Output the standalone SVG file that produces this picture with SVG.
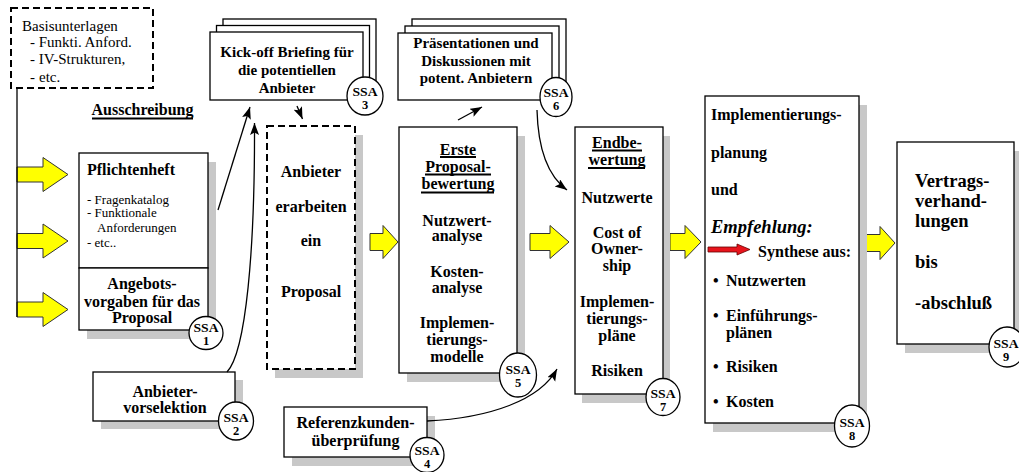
<svg xmlns="http://www.w3.org/2000/svg" width="1019" height="472" viewBox="0 0 1019 472">
<style>
text{font-family:"Liberation Serif","Times New Roman",serif;fill:#000}
.b{font-weight:bold;font-size:16px}
.k{font-weight:bold;font-size:15px}
.r{font-size:15px}
.s{font-size:13px}
.v{font-weight:bold;font-size:18.5px}
.ssa{font-weight:bold;font-size:12.5px;text-anchor:middle}
.m{text-anchor:middle}
.box{fill:#fff;stroke:#000;stroke-width:1.3}
.dash{fill:#fff;stroke:#000;stroke-width:2;stroke-dasharray:7,4}
.sh{fill:#c8c8c8}
.ya{fill:#ffff00;stroke:#333;stroke-width:1}
.ul{stroke:#000;stroke-width:2}
.c{fill:none;stroke:#000;stroke-width:1.3}
.circ{fill:#fff;stroke:#000;stroke-width:1.3}
</style>
<defs>
<marker id="ah" markerUnits="userSpaceOnUse" markerWidth="13" markerHeight="10" refX="12" refY="4.5" orient="auto">
<path d="M0,0 L12,4.5 L0,9 L2.5,4.5 z" fill="#000"/>
</marker>
</defs>

<g id="basis">
<rect class="dash" x="11" y="8" width="142" height="80"/>
<text class="r" x="22" y="31">Basisunterlagen</text>
<text class="r" x="30" y="47">- Funkti. Anford.</text>
<text class="r" x="30" y="64">- IV-Strukturen,</text>
<text class="r" y="82"><tspan x="30">-</tspan><tspan x="39">etc.</tspan></text>
</g>

<g id="ausschreibung">
<text class="b m" x="142.5" y="115">Ausschreibung</text>
<line class="ul" x1="92" y1="118.5" x2="193" y2="118.5"/>
</g>

<g id="yellow-arrows">
<polygon class="ya" points="17,167 43,167 43,157.5 68,174.5 43,191.5 43,182 17,182"/>
<polygon class="ya" points="17,233.5 43,233.5 43,224 68,241 43,258 43,248.5 17,248.5"/>
<polygon class="ya" points="17,302 43,302 43,292.5 68,309.5 43,326.5 43,317 17,317"/>
<polygon class="ya" points="370,233.5 383,233.5 383,225.5 398,242 383,258.5 383,250.5 370,250.5"/>
<polygon class="ya" points="530,233.5 550,233.5 550,225.5 569,242 550,258.5 550,250.5 530,250.5"/>
<polygon class="ya" points="670,233.5 685,233.5 685,225.5 701,242 685,258.5 685,250.5 670,250.5"/>
<polygon class="ya" points="865,234.5 880,234.5 880,226.5 895,243 880,259.5 880,251.5 865,251.5"/>
</g>

<g id="pflichtenheft">
<rect class="sh" x="87" y="162" width="129" height="177"/>
<rect class="box" x="79" y="153" width="129" height="115"/>
<text class="b" x="87" y="175">Pflichtenheft</text>
<text class="s" x="87" y="204">- Fragenkatalog</text>
<text class="s" x="87" y="217">- Funktionale</text>
<text class="s" x="97" y="232">Anforderungen</text>
<text class="s" x="87" y="247">- etc..</text>
</g>

<g id="angebotsvorgaben">
<rect class="box" x="79" y="268" width="129" height="62"/>
<text class="b m" x="142" y="289">Angebots-</text>
<text class="b m" x="142" y="307">vorgaben für das</text>
<text class="b m" x="142" y="323">Proposal</text>
<ellipse class="circ" cx="206" cy="333" rx="17" ry="16.5"/>
<text class="ssa" x="206" y="332" textLength="25" lengthAdjust="spacingAndGlyphs">SSA</text>
<text class="ssa" x="206" y="345">1</text>
</g>

<g id="vorselektion">
<rect class="sh" x="101" y="380" width="142" height="49"/>
<rect class="box" x="93" y="372" width="142" height="49"/>
<text class="b m" x="165" y="397">Anbieter-</text>
<text class="b m" x="165" y="413">vorselektion</text>
<ellipse class="circ" cx="236" cy="421" rx="17.5" ry="19"/>
<text class="ssa" x="236" y="422" textLength="25" lengthAdjust="spacingAndGlyphs">SSA</text>
<text class="ssa" x="236" y="435">2</text>
</g>

<g id="kickoff">
<rect class="box" x="223" y="19" width="153" height="68"/>
<rect class="box" x="216.5" y="25.5" width="153" height="68"/>
<rect class="box" x="210" y="32" width="153" height="68"/>
<text class="k m" x="287" y="57">Kick-off Briefing für</text>
<text class="k m" x="287" y="75">die potentiellen</text>
<text class="k m" x="287" y="93">Anbieter</text>
<ellipse class="circ" cx="365" cy="96" rx="18" ry="19"/>
<text class="ssa" x="365" y="96" textLength="25" lengthAdjust="spacingAndGlyphs">SSA</text>
<text class="ssa" x="365" y="109">3</text>
</g>

<g id="proposal">
<rect class="sh" x="275" y="135" width="88" height="243"/>
<rect class="dash" x="267" y="126" width="88" height="243"/>
<text class="b m" x="311" y="177">Anbieter</text>
<text class="b m" x="311" y="212">erarbeiten</text>
<text class="b m" x="311" y="246">ein</text>
<text class="b m" x="311" y="297">Proposal</text>
</g>

<g id="praesentationen">
<rect class="box" x="412" y="19" width="154" height="67"/>
<rect class="box" x="405" y="26" width="154" height="67"/>
<rect class="box" x="398" y="33" width="154" height="67"/>
<text class="k m" x="476" y="48">Präsentationen und</text>
<text class="k m" x="476" y="66">Diskussionen mit</text>
<text class="k m" x="476" y="83">potent. Anbietern</text>
<ellipse class="circ" cx="556" cy="97" rx="16" ry="19.5"/>
<text class="ssa" x="556" y="97" textLength="25" lengthAdjust="spacingAndGlyphs">SSA</text>
<text class="ssa" x="556" y="110">6</text>
</g>

<g id="erste">
<rect class="sh" x="407" y="136" width="118" height="246"/>
<rect class="box" x="399" y="127" width="118" height="246"/>
<text class="b m" x="458" y="154.5">Erste</text>
<line class="ul" x1="440" y1="157" x2="476" y2="157"/>
<text class="b m" x="458" y="172">Proposal-</text>
<line class="ul" x1="425" y1="174.5" x2="491" y2="174.5"/>
<text class="b m" x="458" y="189">bewertung</text>
<line class="ul" x1="421" y1="192.5" x2="494" y2="192.5"/>
<text class="b m" x="457" y="226">Nutzwert-</text>
<text class="b m" x="457" y="241">analyse</text>
<text class="b m" x="457" y="277">Kosten-</text>
<text class="b m" x="457" y="293">analyse</text>
<text class="b m" x="457" y="328">Implemen-</text>
<text class="b m" x="457" y="345">tierungs-</text>
<text class="b m" x="457" y="362">modelle</text>
<ellipse class="circ" cx="518" cy="375" rx="18.5" ry="22"/>
<text class="ssa" x="518" y="374" textLength="25" lengthAdjust="spacingAndGlyphs">SSA</text>
<text class="ssa" x="518" y="387">5</text>
</g>

<g id="referenz">
<rect class="sh" x="292" y="416" width="143" height="50"/>
<rect class="box" x="284" y="407" width="143" height="50"/>
<text class="b m" x="355.5" y="428">Referenzkunden-</text>
<text class="b m" x="355.5" y="446">überprüfung</text>
<ellipse class="circ" cx="427" cy="455" rx="17" ry="17.5"/>
<text class="ssa" x="427" y="455" textLength="25" lengthAdjust="spacingAndGlyphs">SSA</text>
<text class="ssa" x="427" y="468">4</text>
</g>

<g id="endbewertung">
<rect class="sh" x="582" y="136" width="88" height="267"/>
<rect class="box" x="575" y="127" width="88" height="267"/>
<text class="b m" x="617" y="147.5">Endbe-</text>
<line class="ul" x1="592" y1="150.5" x2="642" y2="150.5"/>
<text class="b m" x="617" y="164.5">wertung</text>
<line class="ul" x1="588" y1="168" x2="645" y2="168"/>
<text class="b m" x="617" y="203">Nutzwerte</text>
<text class="b m" x="617" y="238">Cost of</text>
<text class="b m" x="617" y="254">Owner-</text>
<text class="b m" x="617" y="271">ship</text>
<text class="b m" x="617" y="307">Implemen-</text>
<text class="b m" x="617" y="324">tierungs-</text>
<text class="b m" x="617" y="341">pläne</text>
<text class="b m" x="617" y="376">Risiken</text>
<ellipse class="circ" cx="663" cy="397" rx="17" ry="18.5"/>
<text class="ssa" x="663" y="398" textLength="25" lengthAdjust="spacingAndGlyphs">SSA</text>
<text class="ssa" x="663" y="411">7</text>
</g>

<g id="implementierung">
<rect class="sh" x="713" y="105" width="154" height="327"/>
<rect class="box" x="705" y="96" width="154" height="327"/>
<text class="b" x="711" y="120">Implementierungs-</text>
<text class="b" x="711" y="158">planung</text>
<text class="b" x="711" y="195">und</text>
<text class="v" x="711" y="233" font-style="italic">Empfehlung:</text>
<polygon points="708,247 737,247 737,244 750,249.5 737,255 737,252 708,252" fill="#e8141c" stroke="#600" stroke-width="0.8"/>
<text class="b" x="851" y="257" text-anchor="end">Synthese aus:</text>
<text class="b" x="713" y="286">•</text><text class="b" x="726" y="286">Nutzwerten</text>
<text class="b" x="713" y="321">•</text><text class="b" x="726" y="321">Einführungs-</text>
<text class="b" x="726" y="338">plänen</text>
<text class="b" x="713" y="372">•</text><text class="b" x="726" y="372">Risiken</text>
<text class="b" x="713" y="407">•</text><text class="b" x="726" y="407">Kosten</text>
<ellipse class="circ" cx="852" cy="426" rx="17.5" ry="21"/>
<text class="ssa" x="852" y="427" textLength="25" lengthAdjust="spacingAndGlyphs">SSA</text>
<text class="ssa" x="852" y="440">8</text>
</g>

<g id="vertrag">
<rect class="sh" x="905" y="151" width="117" height="202"/>
<rect class="box" x="897" y="142" width="117" height="202"/>
<text class="v" x="915" y="187">Vertrags-</text>
<text class="v" x="915" y="207">verhand-</text>
<text class="v" x="915" y="227">lungen</text>
<text class="v" x="915" y="268">bis</text>
<text class="v" x="915" y="309">-abschluß</text>
<ellipse class="circ" cx="1007" cy="347" rx="18" ry="20"/>
<text class="ssa" x="1006" y="348" textLength="25" lengthAdjust="spacingAndGlyphs">SSA</text>
<text class="ssa" x="1006" y="361">9</text>
</g>

<g id="connectors">
<line class="c" x1="17" y1="88" x2="17" y2="317"/>
<line class="c" x1="218" y1="210" x2="250" y2="107" marker-end="url(#ah)"/>
<path class="c" d="M227,372 C246,352 255,250 254.5,123" marker-end="url(#ah)"/>
<line class="c" x1="297" y1="106" x2="302.5" y2="119" marker-end="url(#ah)"/>
<line class="c" x1="458" y1="120" x2="482" y2="107" marker-end="url(#ah)"/>
<path class="c" d="M537,110 C538,150 548,176 567,190" marker-end="url(#ah)"/>
<path class="c" d="M427,421 C490,418 540,400 557,369" marker-end="url(#ah)"/>
</g>
</svg>
